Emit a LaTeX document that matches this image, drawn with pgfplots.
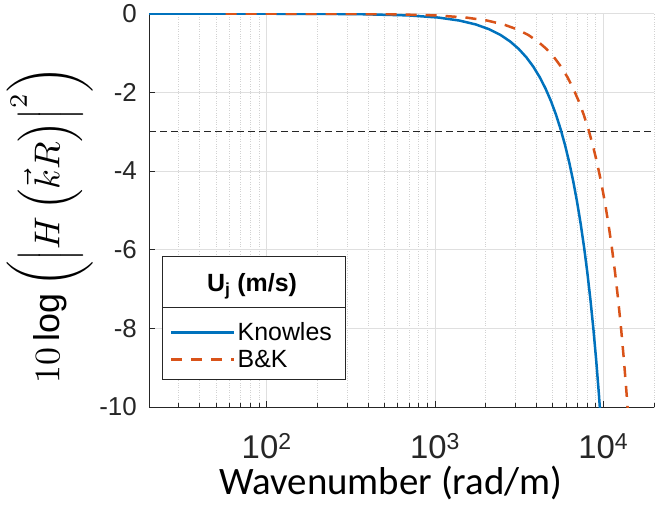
\documentclass[border=0pt]{standalone}
\usepackage{fontspec}
\setmainfont{Liberation Sans}
\newfontfamily\calibri{Carlito}
\usepackage{graphicx}
\usepackage{pgfplots}
\usepackage{pgfplotstable}
\pgfplotsset{compat=1.18}
\definecolor{mblue}{rgb}{0,0.447,0.741}
\definecolor{morange}{rgb}{0.85,0.325,0.098}
\definecolor{axgray}{rgb}{0.15,0.15,0.15}

\pgfplotstableread{
k dB
20 0
100 -0.0009
174.5 -0.0027
349 -0.0109
698 -0.0435
1047 -0.0979
1396 -0.1743
1745 -0.2729
2094 -0.3938
2443 -0.5376
2792 -0.7044
3141 -0.8948
3490 -1.1094
3839 -1.3486
4188 -1.6134
4537 -1.9045
4886 -2.2228
5235 -2.5695
5584 -2.9459
5933 -3.3534
6282 -3.7936
6631 -4.2686
6980 -4.7806
7329 -5.3323
7678 -5.9269
8027 -6.5681
8376 -7.2604
8725 -8.0094
9074 -8.8218
9423 -9.7060
9772 -10.673
}\knowles

\pgfplotstableread{
k dB
57 0
255 -0.0027
510 -0.0109
1020 -0.0435
1530 -0.0979
2040 -0.1743
2550 -0.2729
3060 -0.3938
3570 -0.5376
4080 -0.7044
4590 -0.8948
5100 -1.1094
5610 -1.3486
6120 -1.6134
6630 -1.9045
7140 -2.2228
7650 -2.5695
8160 -2.9459
8670 -3.3534
9180 -3.7936
9690 -4.2686
10200 -4.7806
10710 -5.3323
11220 -5.9269
11730 -6.5681
12240 -7.2604
12750 -8.0094
13260 -8.8218
13770 -9.7060
14280 -10.673
}\bk

\begin{document}
\begin{tikzpicture}
\begin{axis}[
  scale only axis, width=505bp, height=393.3bp,
  xmode=log, xmin=20, xmax=20000, ymin=-10, ymax=0,
  xtick={100,1000,10000},
  xticklabels={10\textsuperscript{2},10\textsuperscript{3},10\textsuperscript{4}},
  minor xtick={20,30,40,50,60,70,80,90,200,300,400,500,600,700,800,900,2000,3000,4000,5000,6000,7000,8000,9000,20000},
  ytick={-10,-8,-6,-4,-2,0},
  /pgf/number format/assume math mode=true,
  axis x line*=bottom, axis y line*=left,
  axis line style={-, axgray, line width=0.8bp},
  tick align=inside, major tick length=6bp, minor tick length=4bp,
  tick style={axgray, line width=0.8bp},
  xmajorgrids, xminorgrids, ymajorgrids,
  major grid style={gray!25, line width=0.8bp},
  minor grid style={gray!35, dotted, line width=0.8bp},
  xticklabel style={font=\fontsize{33}{38}\selectfont, text=axgray, anchor=base, inner sep=0pt, yshift=-51bp},
  yticklabel style={font=\fontsize{26}{30}\selectfont, text=axgray, anchor=east, inner sep=0pt, xshift=-12bp},
  xlabel={\calibri Wavenumber (rad/m)},
  xlabel style={font=\fontsize{39}{44}\selectfont, at={(axis description cs:0.479,-0.2215)}, anchor=base, inner sep=0pt},
  ylabel={\scalebox{3.6}{$10\log\left(\left|H\left(\vec{k}R\right)\right|^2\right)$}},
  ylabel style={at={(axis description cs:-0.281,0.463)}, anchor=north, inner sep=0pt},
  legend style={at={(axis description cs:0.0416,0.22)}, anchor=north west, draw=none, fill=none,
    font=\fontsize{25}{30}\selectfont, row sep=4bp, inner sep=0pt, text=black},
  legend cell align=left,
  legend image code/.code={\draw[#1] (0bp,0bp) -- (63bp,0bp);},
]
\addplot[axgray, dash pattern=on 7bp off 4bp, line width=0.8bp, forget plot] coordinates {(20,-3) (20000,-3)};
\addplot[mblue, line width=2.5bp, line join=round] table[x=k, y=dB] {\knowles};
\addlegendentry{Knowles}
\addplot[morange, line width=2.5bp, dash pattern=on 11bp off 9bp] table[x=k, y=dB] {\bk};
\addlegendentry{B\&K}
\draw[axgray, line width=0.8bp, fill=white] (axis description cs:0.026,0.0704) rectangle (axis description cs:0.3895,0.382);
\draw[axgray, line width=0.8bp] (axis description cs:0.026,0.2535) -- (axis description cs:0.3895,0.2535);
\node[font=\bfseries\fontsize{25}{30}\selectfont, anchor=base, inner sep=0pt] at (axis description cs:0.204,0.293) {U\textsubscript{j} (m/s)};
\end{axis}
\pgfresetboundingbox
\path[use as bounding box] ([xshift=-149bp,yshift=-98bp]current axis.south west) rectangle ([xshift=6bp,yshift=13.7bp]current axis.north east);
\end{tikzpicture}
\end{document}
